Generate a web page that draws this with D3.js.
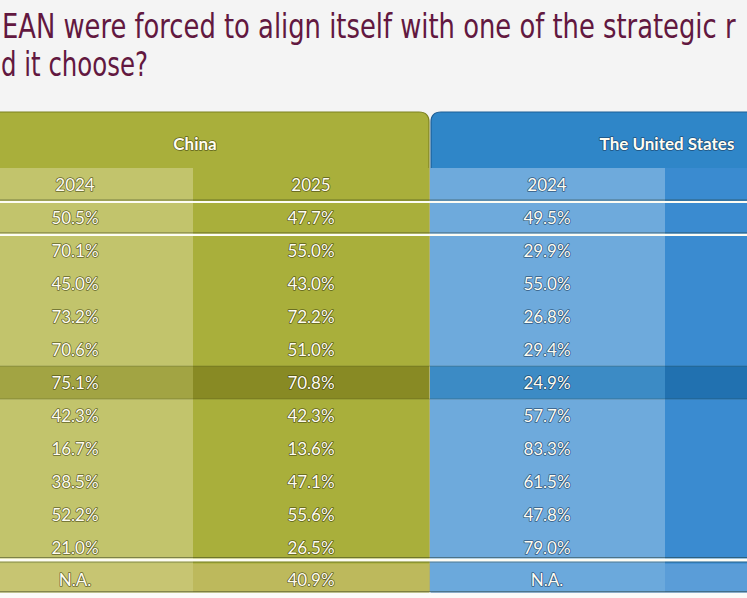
<!DOCTYPE html>
<html>
<head>
<meta charset="utf-8">
<script src="https://cdn.jsdelivr.net/npm/d3@7"></script>
<style>
	html, body { margin: 0; padding: 0; background: #f4f4f4; overflow: hidden; }
	#outer { width: 747px; height: 598px; }
</style>
</head>
<body>
<div id="outer"></div>
<script>

////////// Chart Data //////////
const titleLines = ['EAN were forced to align itself with one of the strategic r', 'd it choose?'];
const powers = ['China', 'The United States'];
const years = ['2024', '2025'];
const columnKeys = ['China 2024', 'China 2025', 'US 2024', 'US 2025'];
const china2024 = [50.5, 70.1, 45.0, 73.2, 70.6, 75.1, 42.3, 16.7, 38.5, 52.2, 21.0, null];
const china2025 = [47.7, 55.0, 43.0, 72.2, 51.0, 70.8, 42.3, 13.6, 47.1, 55.6, 26.5, 40.9];
const us2024 = [49.5, 29.9, 55.0, 26.8, 29.4, 24.9, 57.7, 83.3, 61.5, 47.8, 79.0, null];
// US 2025 column is cut off at the right edge: no readable values
const us2025 = [];
const highlightRow = 5;
const lastRow = 11;


function drawTable () {

	////////////////////////////////////////////////////////////////
		// Definitions
	////////////////////////////////////////////////////////////////
	const width = 747;
	const height = 598;
	const headerTop = 112;
	const yearTop = 168;
	const tableBottom = 592;
	const cornerRadius = 10;
	const numberFont = '17px Lato';
	const headerFont = 'bold 17px Lato';
	const titleFont = '33px "DejaVu Sans Condensed", "Liberation Sans", sans-serif';

	const colors = {
		China: {head: '#a9af3b', light: '#c2c46c', dark: '#a9af3b', hiLight: '#a2a443', hiDark: '#888a24', lastLight: '#c7c572', lastDark: '#bdb95c', edge: '#7d8220', text: '#3c3d0c'},
		US: {head: '#2f86c8', light: '#6eaadc', dark: '#3a8bd0', hiLight: '#3c8bc5', hiDark: '#2171b0', lastLight: '#6ba9dc', lastDark: '#5a9dd8', edge: '#1c5e96', text: '#16385a'}
	};
	const columns = [
		{key: 'China 2024', power: 'China', year: years[0], shade: 'light', values: china2024},
		{key: 'China 2025', power: 'China', year: years[1], shade: 'dark', values: china2025},
		{key: 'US 2024', power: 'US', year: years[0], shade: 'light', values: us2024},
		{key: 'US 2025', power: 'US', year: years[1], shade: 'dark', values: us2025}
	];
	const rowIds = d3.range(china2025.length);

	// SCALES //
	const x = d3.scaleBand().domain(columnKeys).range([-43, 901]);
	const y = d3.scaleBand().domain(rowIds).range([201.5, 596.5]);
	const bw = x.bandwidth();


	////////////////////////////////////////////////////////////////
		// Draw
	////////////////////////////////////////////////////////////////
	const svg = d3.select('#outer').append('svg')
		.attr('width', width)
		.attr('height', height)
		.style('display', 'block');

	svg.append('rect')
		.attr('width', width).attr('height', height)
		.attr('fill', '#f4f4f4');
	svg.append('rect')
		.attr('y', tableBottom).attr('width', width).attr('height', height - tableBottom)
		.attr('fill', '#fbfbf9');

	// ********************************************* TITLE ******************************************************* //
	// condensed look: squeeze each line horizontally to its width in the picture
	const title = svg.append('g').attr('class', 'title').style('font', titleFont).attr('fill', '#621840');
	const titleSpecs = [{x: 2, y: 38, w: 734}, {x: 1, y: 76, w: 147}];
	titleLines.forEach((line, i) => {
		const spec = titleSpecs[i];
		const t = title.append('text').attr('x', 0).attr('y', 0).text(line);
		const natural = t.node().getComputedTextLength();
		t.attr('transform', `translate(${spec.x}, ${spec.y}) scale(${spec.w / natural}, 1)`);
	});

	// ********************************************* HEADER BOXES ******************************************************* //
	const chinaLeft = x('China 2024');
	const chinaRight = x('China 2025') + bw;
	const usLeft = x('US 2024') + 2;
	const usRight = x('US 2025') + bw;
	const r = cornerRadius;

	const chinaPath = `M${chinaLeft},${headerTop} H${chinaRight - r} Q${chinaRight},${headerTop} ${chinaRight},${headerTop + r} V${tableBottom} H${chinaLeft} Z`;
	const usPath = `M${usRight},${headerTop} H${usLeft + r} Q${usLeft},${headerTop} ${usLeft},${headerTop + r} V${tableBottom} H${usRight} Z`;

	svg.append('path').attr('d', chinaPath).attr('fill', colors.China.head).attr('stroke', colors.China.edge).attr('stroke-width', 1.2);
	svg.append('path').attr('d', usPath).attr('fill', colors.US.head).attr('stroke', colors.US.edge).attr('stroke-width', 1.2);

	// ********************************************* COLUMNS ******************************************************* //
	const body = svg.append('g').attr('class', 'body');
	columns.forEach(col => {
		const c = colors[col.power];
		const x0 = col.key === 'US 2024' ? x(col.key) + 1 : x(col.key);
		body.append('rect')
			.attr('x', x0).attr('y', yearTop)
			.attr('width', bw).attr('height', tableBottom - yearTop)
			.attr('fill', c[col.shade]);
		// highlighted row
		body.append('rect')
			.attr('x', x0).attr('y', y(highlightRow))
			.attr('width', bw).attr('height', y.bandwidth())
			.attr('fill', col.shade === 'light' ? c.hiLight : c.hiDark);
		// last row
		body.append('rect')
			.attr('x', x0).attr('y', y(lastRow))
			.attr('width', bw).attr('height', tableBottom - y(lastRow))
			.attr('fill', col.shade === 'light' ? c.lastLight : c.lastDark);
	});

	// thin edges around the highlighted row
	[y(highlightRow), y(highlightRow) + y.bandwidth()].forEach(yy => {
		body.append('line')
			.attr('x1', 0).attr('x2', width).attr('y1', yy).attr('y2', yy)
			.attr('stroke', 'rgba(40,50,20,0.25)').attr('stroke-width', 1);
	});

	// ********************************************* RULES ******************************************************* //
	const rules = svg.append('g').attr('class', 'rules');
	const ruleAt = yy => {
		rules.append('line')
			.attr('x1', 0).attr('x2', width).attr('y1', yy - 1.5).attr('y2', yy - 1.5)
			.attr('stroke', 'rgba(30,40,20,0.45)').attr('stroke-width', 1);
		rules.append('line')
			.attr('x1', 0).attr('x2', width).attr('y1', yy + 0.5).attr('y2', yy + 0.5)
			.attr('stroke', '#fdfdf4').attr('stroke-width', 2.2);
	};
	ruleAt(y(0));
	ruleAt(y(0) + y.bandwidth());
	rules.append('line')
		.attr('x1', 0).attr('x2', width).attr('y1', y(lastRow) - 6).attr('y2', y(lastRow) - 6)
		.attr('stroke', 'rgba(30,40,20,0.45)').attr('stroke-width', 1);
	rules.append('line')
		.attr('x1', 0).attr('x2', width).attr('y1', y(lastRow) - 3.5).attr('y2', y(lastRow) - 3.5)
		.attr('stroke', '#fdfdf4').attr('stroke-width', 3);
	rules.append('line')
		.attr('x1', 0).attr('x2', width).attr('y1', y(lastRow) - 1.5).attr('y2', y(lastRow) - 1.5)
		.attr('stroke', 'rgba(30,40,20,0.35)').attr('stroke-width', 1);
	rules.append('line')
		.attr('x1', 0).attr('x2', width).attr('y1', tableBottom - 0.5).attr('y2', tableBottom - 0.5)
		.attr('stroke', 'rgba(30,40,20,0.4)').attr('stroke-width', 1);

	// ********************************************* TEXT ******************************************************* //
	const outlined = (sel, c) => sel
		.attr('fill', '#fffdf2')
		.attr('stroke', c.text)
		.attr('stroke-width', 1.6)
		.attr('stroke-linejoin', 'round')
		.attr('stroke-opacity', 0.7)
		.style('paint-order', 'stroke')
		.attr('text-anchor', 'middle')
		.attr('dominant-baseline', 'central');

	const labels = svg.append('g').attr('class', 'labels');

	// power headers
	const powerKeys = ['China', 'US'];
	powers.forEach((name, i) => {
		const left = x(columnKeys[i * 2]);
		const right = x(columnKeys[i * 2 + 1]) + bw;
		labels.append('text')
			.call(outlined, colors[powerKeys[i]])
			.style('font', headerFont)
			.attr('x', (left + right) / 2 + 2)
			.attr('y', 143)
			.text(name);
	});

	columns.forEach(col => {
		const c = colors[col.power];
		const cx = x(col.key) + bw / 2;
		// columns beyond the right edge carry no readable labels
		if (!col.values.length) return;
		labels.append('text')
			.call(outlined, c)
			.style('font', numberFont)
			.attr('x', cx)
			.attr('y', (yearTop + y(0)) / 2)
			.text(col.year);

		col.values.forEach((v, i) => {
			labels.append('text')
				.call(outlined, c)
				.style('font', numberFont)
				.attr('x', cx)
				.attr('y', y(i) + y.bandwidth() / 2 - (i === lastRow ? 0.5 : 0))
				.text(v === null ? 'N.A.' : d3.format('.1f')(v) + '%');
		});
	});
}

drawTable();

</script>
</body>
</html>
